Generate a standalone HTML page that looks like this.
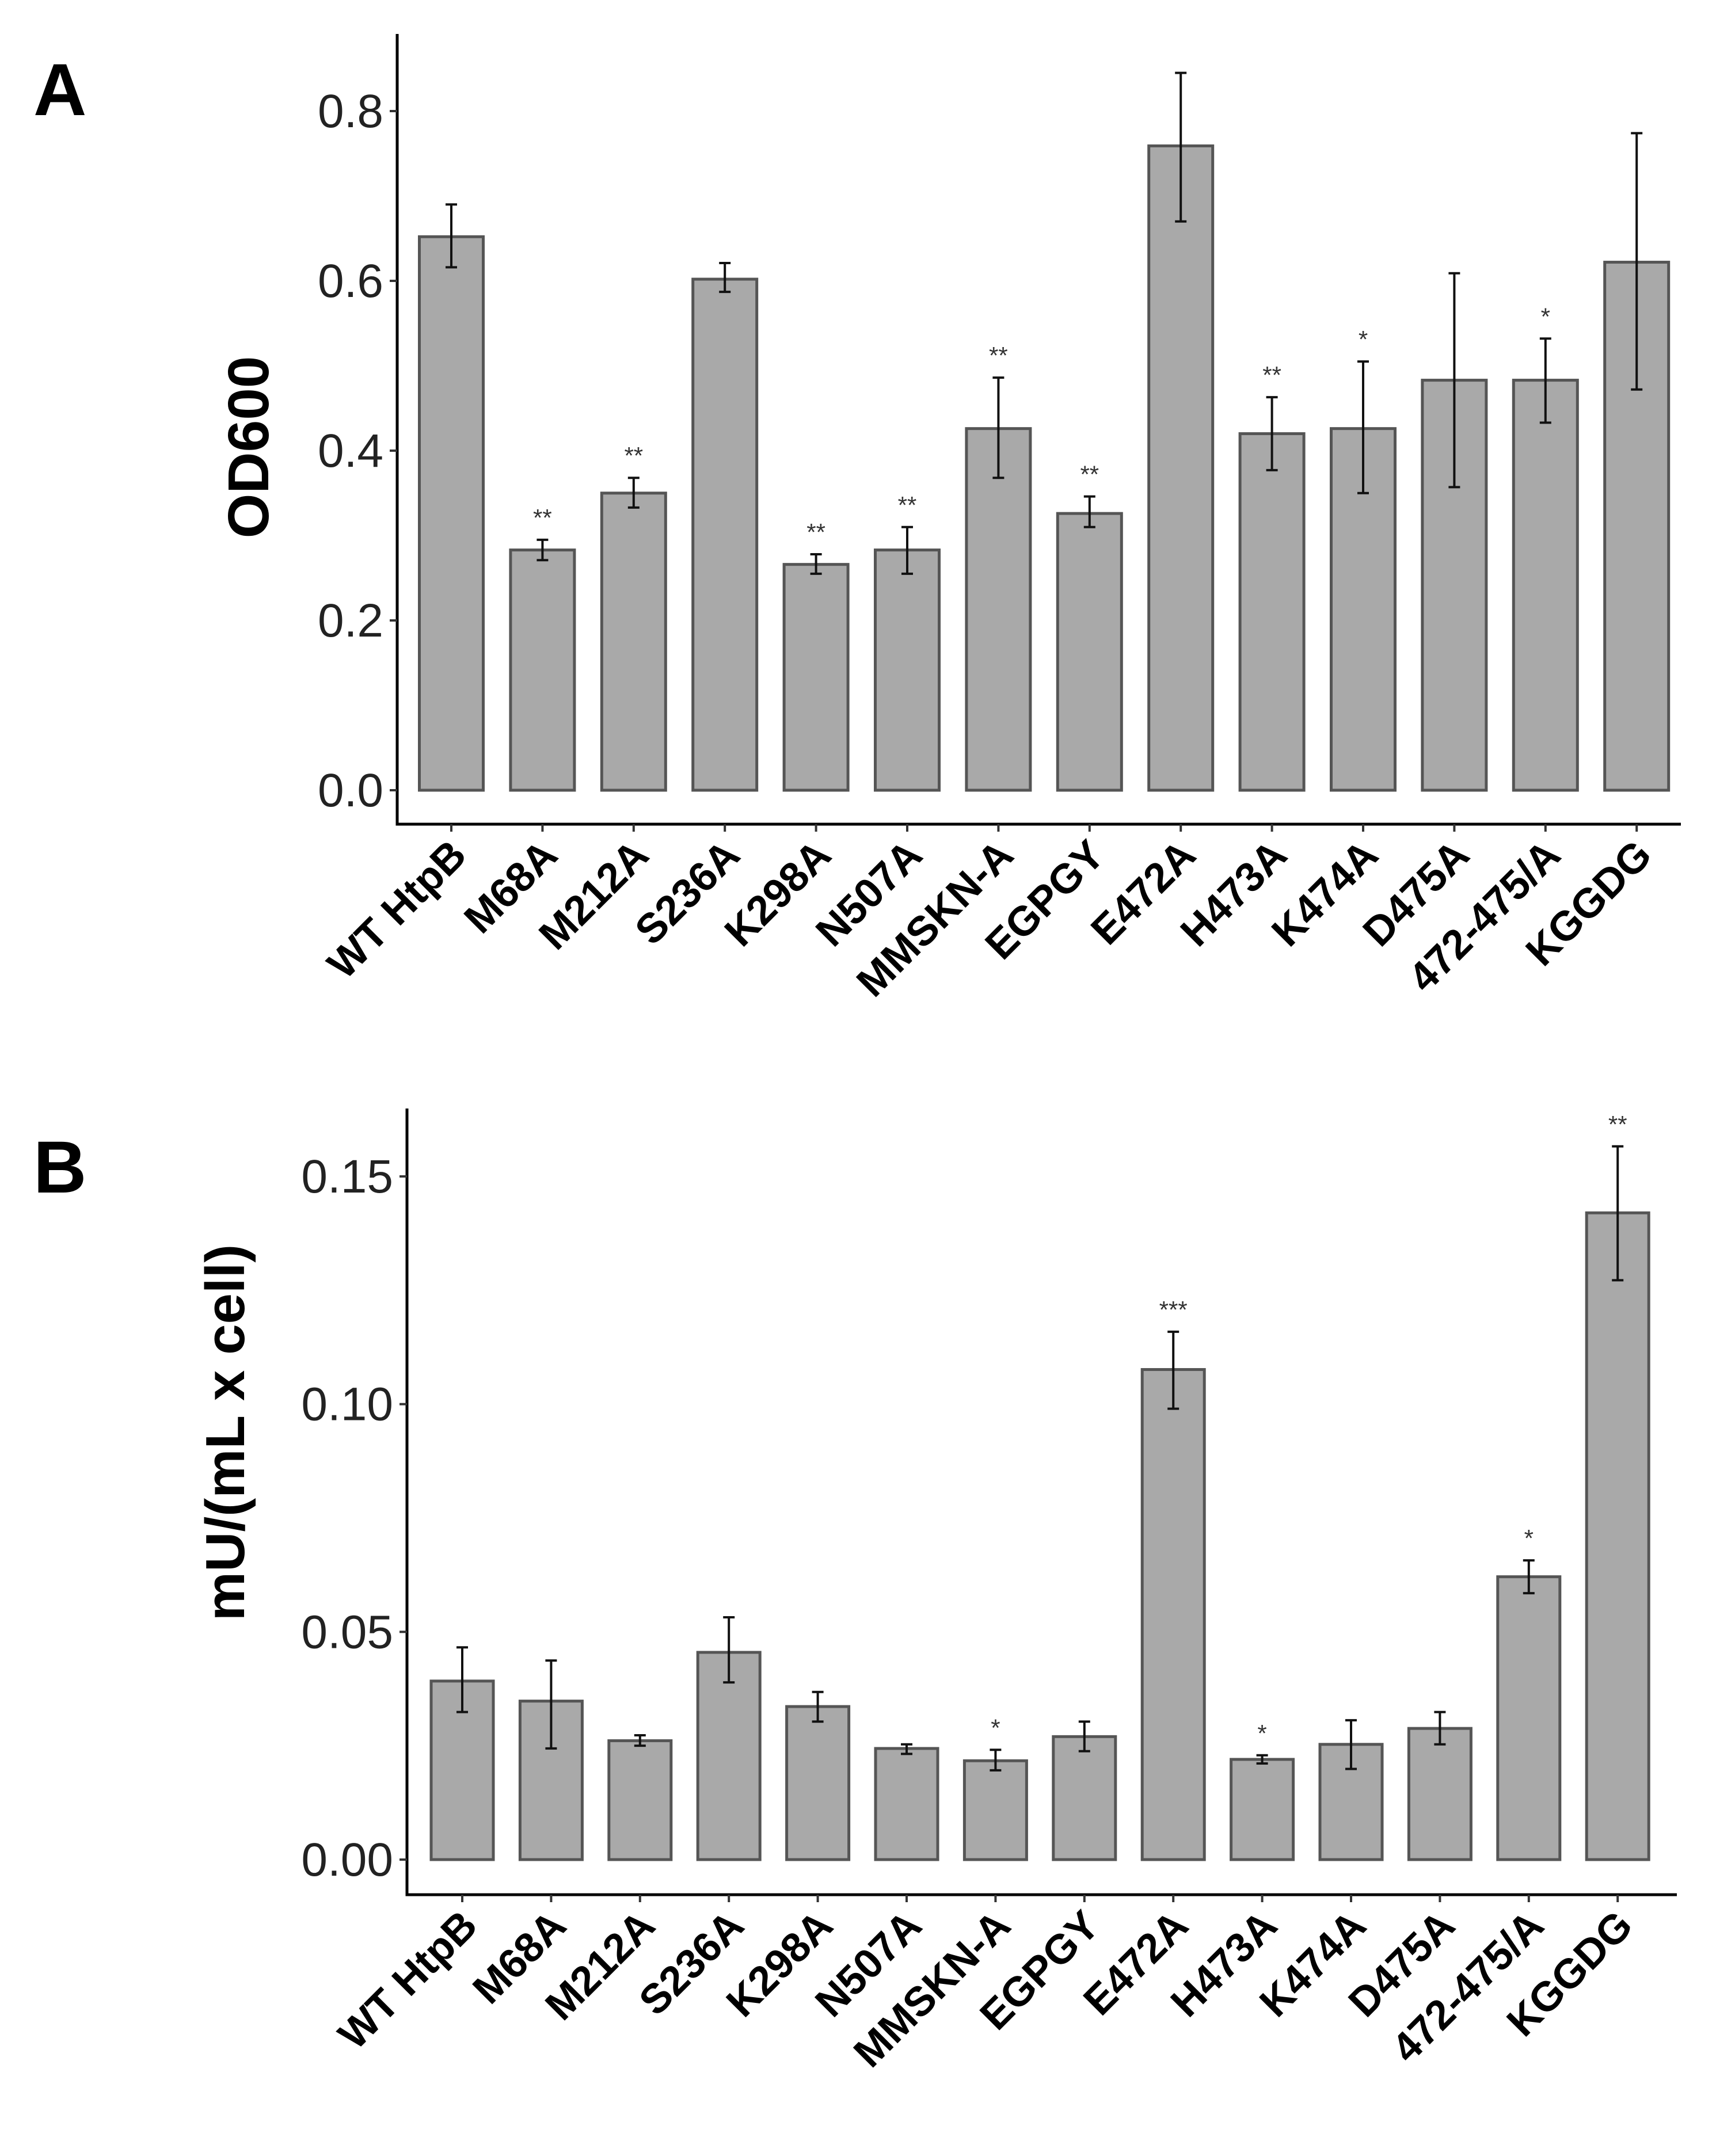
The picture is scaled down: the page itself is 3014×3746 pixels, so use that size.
<!DOCTYPE html>
<html><head><meta charset="utf-8"><style>
html,body{margin:0;padding:0;background:#fff;}
svg{display:block;font-family:"Liberation Sans",Arial,sans-serif;}
</style></head><body>
<svg id="fig" width="3014" height="3746" viewBox="0 0 3014 3746">
<text x="58" y="200" font-size="128" font-weight="bold">A</text>
<text x="58" y="2072" font-size="128" font-weight="bold">B</text>
</svg>
<script>
const categories = ["WT HtpB","M68A","M212A","S236A","K298A","N507A","MMSKN-A","EGPGY","E472A","H473A","K474A","D475A","472-475/A","KGGDG"];
const odValues = [0.652,0.283,0.350,0.602,0.266,0.283,0.426,0.326,0.759,0.420,0.426,0.483,0.483,0.622];
const odLow = [0.616,0.271,0.333,0.587,0.255,0.255,0.368,0.310,0.670,0.377,0.350,0.357,0.433,0.472];
const odHigh = [0.690,0.295,0.368,0.621,0.278,0.310,0.486,0.346,0.845,0.463,0.505,0.609,0.532,0.774];
const odStars = ["","**","**","","**","**","**","**","","**","*","","*",""];
const odTicks = [0.0,0.2,0.4,0.6,0.8];
const odTickLabels = ["0.0","0.2","0.4","0.6","0.8"];
const muValues = [0.0392,0.0348,0.0261,0.0455,0.0336,0.0244,0.0217,0.0270,0.1076,0.0220,0.0253,0.0288,0.0621,0.1420];
const muLow = [0.0324,0.0244,0.0250,0.0389,0.0303,0.0232,0.0196,0.0238,0.0990,0.0211,0.0199,0.0253,0.0585,0.1272];
const muHigh = [0.0466,0.0437,0.0273,0.0532,0.0368,0.0253,0.0241,0.0303,0.1159,0.0229,0.0306,0.0324,0.0657,0.1566];
const muStars = ["","","","","","","*","","***","*","","","*","**"];
const muTicks = [0.00,0.05,0.10,0.15];
const muTickLabels = ["0.00","0.05","0.10","0.15"];

const NS = "http://www.w3.org/2000/svg";
const svg = document.getElementById("fig");
function mk(tag, attrs, parent){
  const e = document.createElementNS(NS, tag);
  for (const k in attrs) e.setAttribute(k, attrs[k]);
  (parent||svg).appendChild(e);
  return e;
}
function panel(cfg){
  const g = mk("g", {});
  
  
  const y = v => cfg.y0 - v * cfg.ppu;
  const x = i => cfg.x0 + i * cfg.step;
  const ya = mk("line",{x1:cfg.ax,y1:cfg.top,x2:cfg.ax,y2:cfg.bottom+2.5,stroke:"#000","stroke-width":5},g);
  
  
  const xa = mk("line",{x1:cfg.ax-2.5,y1:cfg.bottom,x2:cfg.right,y2:cfg.bottom,stroke:"#000","stroke-width":5},g);
  
  
  cfg.ticks.forEach((t,i)=>{
    const tk = mk("line",{x1:cfg.ax-13,y1:y(t),x2:cfg.ax,y2:y(t),stroke:"#333","stroke-width":4},g);
    
    
    const tl = mk("text",{x:cfg.ax-24,y:y(t)+28,"text-anchor":"end","font-size":82,fill:"#222"},g);
    tl.textContent = cfg.tickLabels[i];
    
    
  });
  const tt = mk("text",{transform:`translate(${cfg.titleX},${cfg.titleY}) rotate(-90)`,"text-anchor":"middle","font-size":cfg.titleSize,"font-weight":"bold"},g);
  tt.textContent = cfg.title;
  
  
  const bw = cfg.bw;
  categories.forEach((c,i)=>{
    const cx = x(i);
    const r = mk("rect",{x:cx-bw/2,y:y(cfg.values[i]),width:bw,height:y(0)-y(cfg.values[i]),fill:"#a9a9a9",stroke:"#555","stroke-width":5},g);
    
    
    const e = mk("path",{d:`M${cx-10},${y(cfg.high[i])}H${cx+10}M${cx},${y(cfg.high[i])}V${y(cfg.low[i])}M${cx-10},${y(cfg.low[i])}H${cx+10}`,stroke:"#111","stroke-width":4,fill:"none"},g);
    
    
    if (cfg.stars[i]) {
      const s = mk("text",{x:cx,y:y(cfg.high[i])-24,"text-anchor":"middle","font-size":42,fill:"#333"},g);
      s.textContent = cfg.stars[i];
      
      
    }
    const tk = mk("line",{x1:cx,y1:cfg.bottom,x2:cx,y2:cfg.bottom+13,stroke:"#333","stroke-width":4},g);
    
    
    const lb = mk("text",{transform:`translate(${cx+30},${cfg.bottom+58}) rotate(-45)`,"text-anchor":"end","font-size":72,"font-weight":"bold"},g);
    lb.textContent = c;
    
    
  });
}
panel({name:"panel-a-od600-chart",ax:690,top:59,bottom:1432,right:2920,y0:1373,ppu:(1373-193)/0.8,x0:784,step:158.4,bw:111,
  ticks:odTicks,tickLabels:odTickLabels,values:odValues,low:odLow,high:odHigh,stars:odStars,
  title:"OD600",titleX:466,titleY:777,titleSize:100});
panel({name:"panel-b-activity-chart",ax:707,top:1926,bottom:3292,right:2913,y0:3231,ppu:(3231-2044)/0.15,x0:803,step:154.4,bw:108,
  ticks:muTicks,tickLabels:muTickLabels,values:muValues,low:muLow,high:muHigh,stars:muStars,
  title:"mU/(mL x cell)",titleX:424,titleY:2489,titleSize:96});
</script>
</body></html>
